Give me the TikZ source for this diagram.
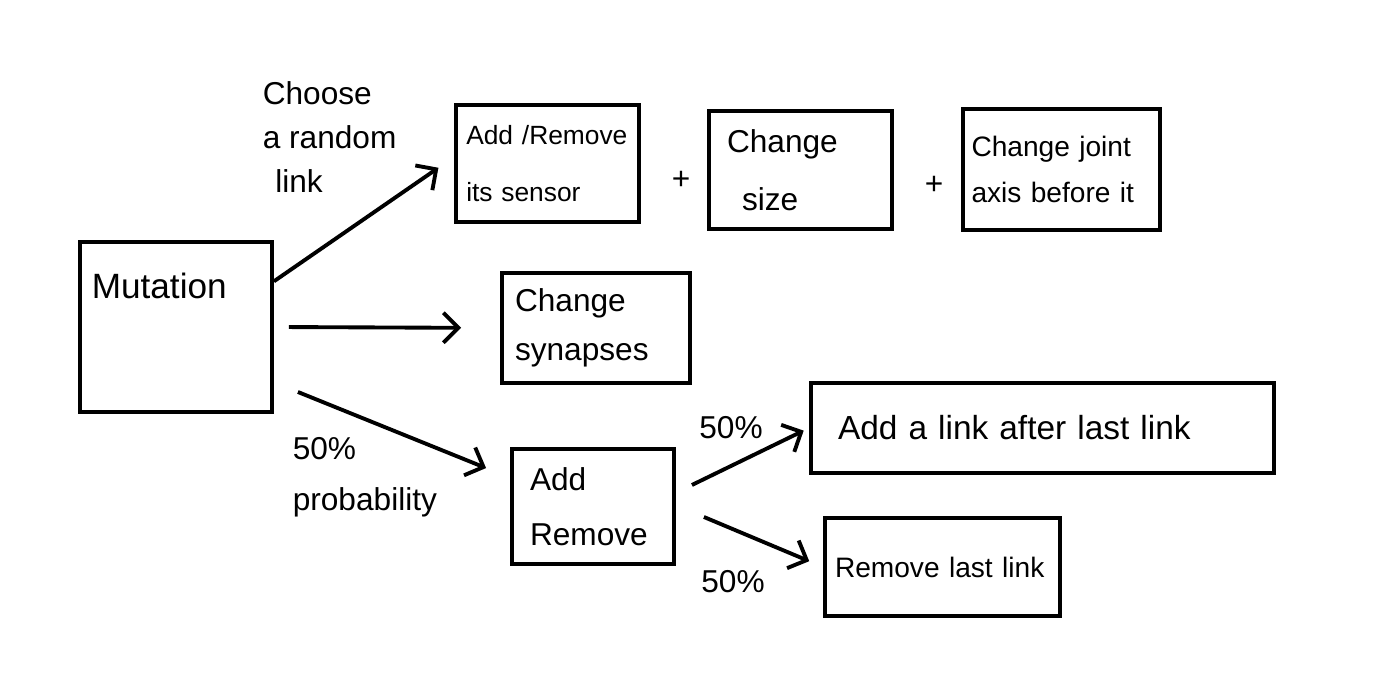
\documentclass[tikz,border=0pt]{standalone}
\usepackage{fontspec}
\setmainfont{Liberation Sans}
\usetikzlibrary{arrows.meta}

\begin{document}
\begin{tikzpicture}[->,>={Straight Barb[length=3mm,width=6mm]},line width=2.2pt]
    \tikzstyle{box}=[draw, rectangle, align=left, font=\fontsize{18}{30}\selectfont]
    \tikzstyle{txt}=[align=left, font=\fontsize{18}{25}\selectfont]
    \useasboundingbox (0,0) rectangle (27.7,13.98);
    \node[box, minimum width=3.84cm, minimum height=3.4cm,
        label={[txt, font=\fontsize{20}{25}\selectfont, anchor=north west, xshift=0.12cm, yshift=-0.5cm]north west:Mutation}] (mut) at (3.52, 7.44){};
    \node[box, font=\fontsize{15}{32}\selectfont, text width=3.25cm, minimum width=3.66cm, minimum height=2.34cm] (sens) at (10.95, 10.71){Add /Remove\\its sensor};
    \node[box, font=\fontsize{18}{33}\selectfont, text width=2.94cm, minimum width=3.66cm, minimum height=2.36cm] (size) at (16.01, 10.58){Change\\\hspace{0.3cm}size};
    \node[box, font=\fontsize{16}{26}\selectfont, text width=3.6cm, minimum width=3.94cm, minimum height=2.42cm] (joint) at (21.23, 10.59){Change joint\\axis before it};
    \node[box, font=\fontsize{18}{28}\selectfont, text width=3.24cm, minimum width=3.76cm, minimum height=2.2cm] (syn) at (11.92, 7.42){Change\\synapses};
    \node[box, font=\fontsize{18}{31}\selectfont, text width=2.52cm, minimum width=3.24cm, minimum height=2.3cm] (addrm) at (11.86, 3.85){Add\\Remove};
    \node[box, font=\fontsize{19}{30}\selectfont, text width=8.18cm, minimum width=9.26cm, minimum height=1.8cm] (after) at (20.85, 5.42){Add a link after last link};
    \node[box, font=\fontsize{16}{24}\selectfont, text width=4.3cm, minimum width=4.7cm, minimum height=1.96cm] (rmlast) at (18.85, 2.64){Remove last link};
    % labels
    \node[txt, anchor=north west] (choose) at (5.1, 12.5){Choose\\a random\\\hspace{0.25cm}link};
    \node[txt, font=\fontsize{18}{29}\selectfont, anchor=north west] (prob) at (5.7, 5.38){50\%\\probability};
    \node[txt] (pa) at (14.62, 5.42){50\%};
    \node[txt] (pb) at (14.66, 2.34){50\%};
    \node[txt] (plus1) at (13.62, 10.38){+};
    \node[txt] (plus2) at (18.68, 10.28){+};
    % arrows
    \path (mut.25) edge[shorten >=0.38cm] (sens.176);
    \path (mut.east) edge[shorten <=0.3cm, shorten >=0.78cm] (syn.west);
    \path ([shift={(0.48,-1.3)}]mut.east) edge ([shift={(-0.48,-0.42)}]addrm.north west);
    \path ([shift={(0.32,0.43)}]addrm.east) edge[shorten >=0.12cm] (after.west);
    \path ([shift={(0.56,-0.21)}]addrm.east) edge[shorten >=0.3cm] (rmlast.west);
\end{tikzpicture}
\end{document}
